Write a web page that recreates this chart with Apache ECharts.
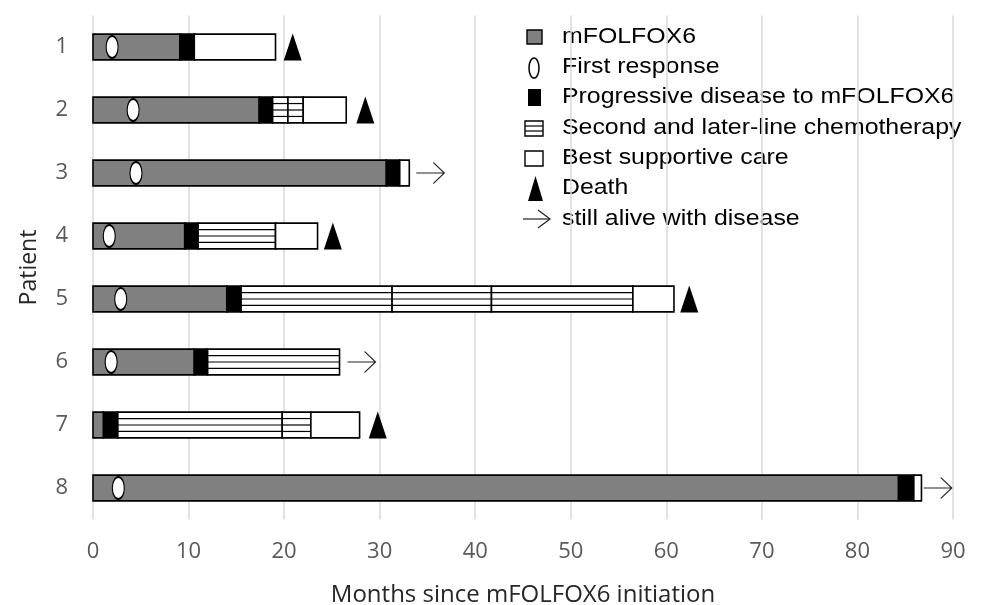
<!DOCTYPE html>
<html>
<head>
<meta charset="utf-8">
<script src="https://cdn.jsdelivr.net/npm/echarts@6/dist/echarts.min.js"></script>
<style>
  html, body { margin: 0; padding: 0; background: #fff; }
  #chart { width: 986px; height: 605px; }
</style>
</head>
<body>
<div id="chart"></div>
<script>
// patients, top to bottom
var patients = ['1', '2', '3', '4', '5', '6', '7', '8'];
var xTicks = [0, 10, 20, 30, 40, 50, 60, 70, 80, 90];

// segments: [patient, start month, end month]
var mfolfox6 = [['1', 0, 9.1], ['2', 0, 17.4], ['3', 0, 30.7], ['4', 0, 9.6],
  ['5', 0, 14.0], ['6', 0, 10.6], ['7', 0, 1.1], ['8', 0, 84.3]];
var progression = [['1', 9.1, 10.6], ['2', 17.4, 18.8], ['3', 30.7, 32.1], ['4', 9.6, 11.0],
  ['5', 14.0, 15.5], ['6', 10.6, 12.0], ['7', 1.1, 2.6], ['8', 84.3, 85.9]];
var laterLine = [['2', 18.8, 20.4], ['2', 20.4, 22.0], ['4', 11.0, 19.1],
  ['5', 15.5, 31.3], ['5', 31.3, 41.7], ['5', 41.7, 56.5], ['6', 12.0, 25.8],
  ['7', 2.6, 19.8], ['7', 19.8, 22.8]];
var bsc = [['1', 10.6, 19.1], ['2', 22.0, 26.5], ['3', 32.1, 33.1], ['4', 19.1, 23.5],
  ['5', 56.5, 60.8], ['7', 22.8, 27.9], ['8', 85.9, 86.7]];

// markers: [month, patient]
var firstResponse = [[2.0, '1'], [4.2, '2'], [4.5, '3'], [1.7, '4'], [2.9, '5'], [1.9, '6'], [2.65, '8']];
var death = [[20.9, '1'], [28.5, '2'], [25.1, '4'], [62.4, '5'], [29.8, '7']];
var alive = [[35.3, '3'], [28.1, '6'], [88.4, '8']];

var legendNames = ['mFOLFOX6', 'First response', 'Progressive disease to mFOLFOX6',
  'Second and later-line chemotherapy', 'Best supportive care', 'Death', 'still alive with disease'];

var myChart = echarts.init(document.getElementById('chart'));

function segRenderer(fill, hatched) {
  return function (params, api) {
    var p0 = api.coord([api.value(1), api.value(0)]);
    var p1 = api.coord([api.value(2), api.value(0)]);
    var h = api.size([0, 1])[1] * 0.41;
    var x = p0[0], y = p0[1] - h / 2, w = p1[0] - p0[0];
    var children = [{
      type: 'rect',
      shape: { x: x, y: y, width: w, height: h },
      style: { fill: fill, stroke: '#000', lineWidth: 1.6 }
    }];
    if (hatched) {
      for (var k = 1; k < 4; k++) {
        var yy = y + h * k / 4;
        children.push({
          type: 'line',
          shape: { x1: x, y1: yy, x2: x + w, y2: yy },
          style: { stroke: '#000', lineWidth: 1.2 }
        });
      }
    }
    return { type: 'group', children: children };
  };
}

function segSeries(name, data, fill, hatched) {
  return {
    name: name,
    type: 'custom',
    renderItem: segRenderer(fill, hatched),
    encode: { x: [1, 2], y: 0 },
    data: data,
    silent: true,
    z: 2
  };
}

// legend drawn with graphic elements
var tx = 562, rows = [37, 67, 97, 128, 158, 188, 219];
var legendGraphic = [
  { type: 'rect', shape: { x: 527, y: rows[0] - 7, width: 15, height: 14 }, style: { fill: '#808080', stroke: '#000', lineWidth: 1.4 } },
  { type: 'ellipse', shape: { cx: 534, cy: rows[1] + 1, rx: 5, ry: 10 }, style: { fill: '#fff', stroke: '#000', lineWidth: 1.5 } },
  { type: 'rect', shape: { x: 528, y: rows[2] - 8, width: 13, height: 17 }, style: { fill: '#000' } },
  { type: 'rect', shape: { x: 525, y: rows[3] - 7, width: 18, height: 15 }, style: { fill: '#fff', stroke: '#000', lineWidth: 1.4 } },
  { type: 'rect', shape: { x: 525, y: rows[4] - 7, width: 18, height: 15 }, style: { fill: '#fff', stroke: '#000', lineWidth: 1.4 } },
  { type: 'polygon', shape: { points: [[535.5, rows[5] - 12], [543, rows[5] + 13], [528, rows[5] + 13]] }, style: { fill: '#000' } },
  { type: 'polyline', shape: { points: [[523, rows[6]], [550, rows[6]]] }, style: { stroke: '#222', lineWidth: 1.2, fill: null } },
  { type: 'polyline', shape: { points: [[538, rows[6] - 9], [550, rows[6]], [538, rows[6] + 9]] }, style: { stroke: '#222', lineWidth: 1.2, fill: null } }
];
for (var k = 1; k < 3; k++) {
  legendGraphic.push({ type: 'line', shape: { x1: 525, y1: rows[3] - 7 + 5 * k, x2: 543, y2: rows[3] - 7 + 5 * k }, style: { stroke: '#000', lineWidth: 1.2 } });
}
legendNames.forEach(function (nm, i) {
  legendGraphic.push({
    type: 'text',
    x: tx, y: rows[i],
    scaleX: 1.13,
    style: {
      text: nm, fill: '#000', font: '22px "Liberation Sans", Arial, sans-serif',
      verticalAlign: 'middle', align: 'left'
    }
  });
});

var option = {
  animation: false,
  backgroundColor: '#fff',
  grid: { left: 93, right: 33, top: 15.5, bottom: 85.5, containLabel: false, outerBoundsMode: 'none' },
  xAxis: {
    type: 'value',
    min: 0, max: 90, interval: 10,
    name: 'Months since mFOLFOX6 initiation',
    nameLocation: 'middle',
    nameGap: 64,
    nameTextStyle: { fontSize: 24, color: '#262626', fontFamily: 'Open Sans' },
    axisLine: { show: false },
    axisTick: { show: false },
    axisLabel: {
      fontSize: 22, color: '#595959', fontFamily: 'Open Sans', margin: 21,
      formatter: function (v) { return xTicks.indexOf(v) >= 0 ? String(v) : ''; }
    },
    splitLine: { show: true, lineStyle: { color: '#d9d9d9', width: 1.5 } }
  },
  yAxis: {
    type: 'category',
    inverse: true,
    data: patients,
    name: 'Patient',
    nameLocation: 'middle',
    nameGap: 52,
    nameTextStyle: { fontSize: 23, color: '#262626', fontFamily: 'Open Sans' },
    axisLine: { show: false },
    axisTick: { show: false },
    axisLabel: { fontSize: 22, color: '#595959', fontFamily: 'Open Sans', margin: 25 },
    splitLine: { show: false }
  },
  graphic: legendGraphic,
  series: [
    segSeries('mFOLFOX6', mfolfox6, '#808080', false),
    segSeries('Progressive disease to mFOLFOX6', progression, '#000', false),
    segSeries('Second and later-line chemotherapy', laterLine, '#fff', true),
    segSeries('Best supportive care', bsc, '#fff', false),
    {
      name: 'First response',
      type: 'scatter',
      data: firstResponse,
      symbol: 'path://M0,11 A6,11 0 1 1 12,11 A6,11 0 1 1 0,11 Z',
      symbolSize: [12, 22],
      itemStyle: { color: '#fff', borderColor: '#000', borderWidth: 1.5, opacity: 1 },
      z: 5
    },
    {
      name: 'Death',
      type: 'scatter',
      data: death,
      symbol: 'triangle',
      symbolSize: [18, 27],
      itemStyle: { color: '#000', opacity: 1 },
      z: 5
    },
    {
      name: 'still alive with disease',
      type: 'scatter',
      data: alive,
      symbol: 'path://M0,10 L28,10 M17,0 L28,10 L17,20',
      symbolSize: [28, 21],
      itemStyle: { color: 'transparent', borderColor: '#222', borderWidth: 1.2, opacity: 1 },
      z: 5
    }
  ]
};

myChart.setOption(option);
</script>
</body>
</html>
